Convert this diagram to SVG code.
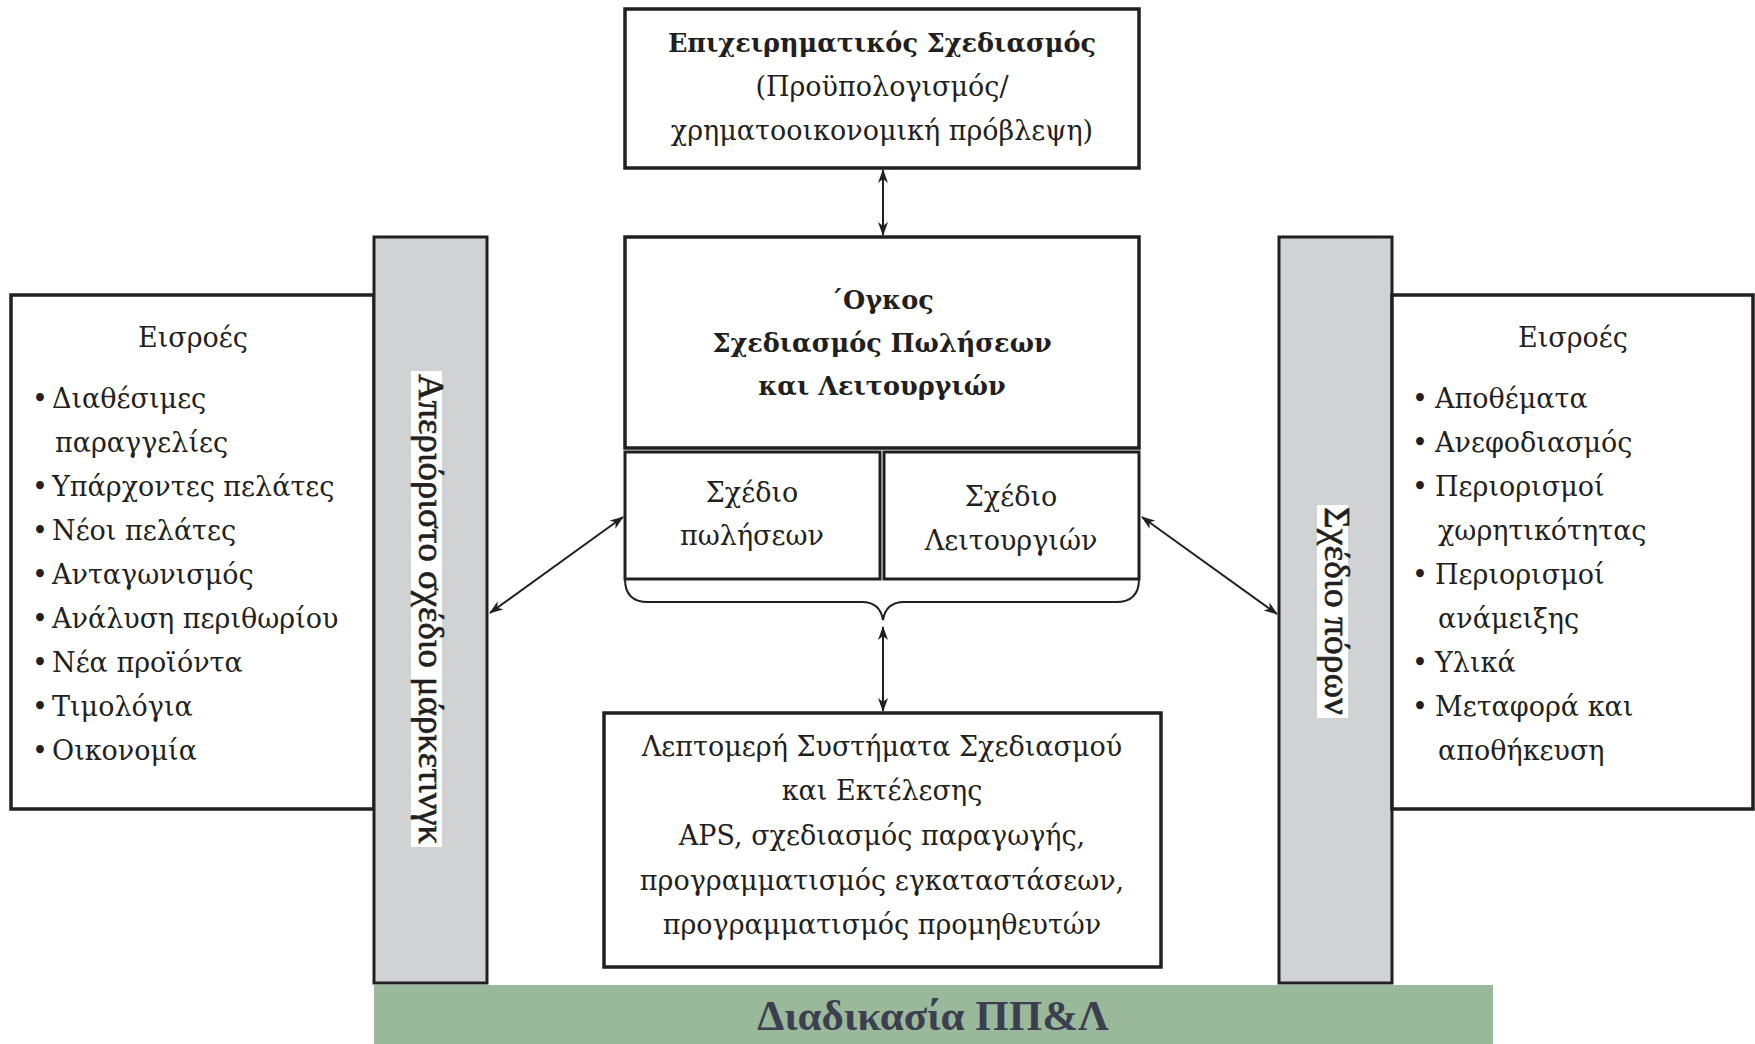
<svg xmlns="http://www.w3.org/2000/svg" width="1755" height="1044" viewBox="0 0 1755 1044">
<style>
.box{fill:#fff;stroke:#231f20;stroke-width:3.5}
.sub{fill:#fff;stroke:#231f20;stroke-width:3}
.bar{fill:#d1d2d4;stroke:#231f20;stroke-width:3}
.t{font-family:"DejaVu Serif","Liberation Serif",serif;font-size:27px;fill:#231f20}
.c{text-anchor:middle}
.b{font-weight:bold;font-size:25.5px}
.v{font-family:"Liberation Serif","DejaVu Serif",serif;font-size:35px;fill:#231f20;stroke:#231f20;stroke-width:0.6;text-anchor:middle}
.con{fill:none;stroke:#231f20;stroke-width:2}
</style>
<defs>
<marker id="ah" viewBox="0 0 14 10" refX="13" refY="5" markerWidth="14" markerHeight="10" markerUnits="userSpaceOnUse" orient="auto-start-reverse">
<path d="M0,0 L14,5 L0,10 L4,5 z" fill="#231f20"/>
</marker>
</defs>
<rect width="1755" height="1044" fill="#fff"/>

<g id="left-inputs">
<rect class="box" x="11" y="295" width="363" height="514"/>
<text class="t c" x="193" y="347">Εισροές</text>
<text class="t" x="32" y="408">•</text><text class="t" x="52" y="408">Διαθέσιμες</text>
<text class="t" x="55" y="452">παραγγελίες</text>
<text class="t" x="32" y="496">•</text><text class="t" x="52" y="496">Υπάρχοντες πελάτες</text>
<text class="t" x="32" y="540">•</text><text class="t" x="52" y="540">Νέοι πελάτες</text>
<text class="t" x="32" y="584">•</text><text class="t" x="52" y="584">Ανταγωνισμός</text>
<text class="t" x="32" y="628">•</text><text class="t" x="52" y="628">Ανάλυση περιθωρίου</text>
<text class="t" x="32" y="672">•</text><text class="t" x="52" y="672">Νέα προϊόντα</text>
<text class="t" x="32" y="716">•</text><text class="t" x="52" y="716">Τιμολόγια</text>
<text class="t" x="32" y="760">•</text><text class="t" x="52" y="760">Οικονομία</text>
</g>

<g id="marketing-bar">
<rect class="bar" x="374" y="237" width="113" height="746"/>
<rect x="411" y="371" width="31" height="476" fill="#fff"/>
<text class="v" transform="translate(419,609) rotate(90)" textLength="470" lengthAdjust="spacingAndGlyphs">Απεριόριστο σχέδιο μάρκετινγκ</text>
</g>

<g id="resources-bar">
<rect class="bar" x="1279" y="237" width="113" height="746"/>
<rect x="1317" y="505" width="31" height="213" fill="#fff"/>
<text class="v" transform="translate(1325,611) rotate(90)" textLength="208" lengthAdjust="spacingAndGlyphs">Σχέδιο πόρων</text>
</g>

<g id="right-inputs">
<rect class="box" x="1392" y="295" width="361" height="514"/>
<text class="t c" x="1573" y="347">Εισροές</text>
<text class="t" x="1412" y="408">•</text><text class="t" x="1435" y="408">Αποθέματα</text>
<text class="t" x="1412" y="452">•</text><text class="t" x="1435" y="452">Ανεφοδιασμός</text>
<text class="t" x="1412" y="496">•</text><text class="t" x="1435" y="496">Περιορισμοί</text>
<text class="t" x="1438" y="540">χωρητικότητας</text>
<text class="t" x="1412" y="584">•</text><text class="t" x="1435" y="584">Περιορισμοί</text>
<text class="t" x="1438" y="628">ανάμειξης</text>
<text class="t" x="1412" y="672">•</text><text class="t" x="1435" y="672">Υλικά</text>
<text class="t" x="1412" y="716">•</text><text class="t" x="1435" y="716">Μεταφορά και</text>
<text class="t" x="1438" y="760">αποθήκευση</text>
</g>

<g id="business-planning">
<rect class="box" x="625" y="9" width="514" height="159"/>
<text class="t c b" x="882" y="52">Επιχειρηματικός Σχεδιασμός</text>
<text class="t c" x="882" y="96">(Προϋπολογισμός/</text>
<text class="t c" x="882" y="140">χρηματοοικονομική πρόβλεψη)</text>
</g>

<g id="volume-planning">
<rect class="box" x="625" y="237" width="514" height="211"/>
<text class="t c b" x="882" y="309">΄Ογκος</text>
<text class="t c b" x="882" y="352">Σχεδιασμός Πωλήσεων</text>
<text class="t c b" x="882" y="395">και Λειτουργιών</text>
</g>

<g id="sales-plan">
<rect class="sub" x="625" y="452" width="255" height="127"/>
<text class="t c" x="752" y="502">Σχέδιο</text>
<text class="t c" x="752" y="545">πωλήσεων</text>
</g>

<g id="operations-plan">
<rect class="sub" x="884" y="452" width="255" height="127"/>
<text class="t c" x="1011" y="506">Σχέδιο</text>
<text class="t c" x="1011" y="550">Λειτουργιών</text>
</g>

<g id="detailed-systems">
<rect class="box" x="604" y="713" width="557" height="254"/>
<text class="t c" x="882" y="756">Λεπτομερή Συστήματα Σχεδιασμού</text>
<text class="t c" x="882" y="800">και Εκτέλεσης</text>
<text class="t c" x="882" y="845">APS, σχεδιασμός παραγωγής,</text>
<text class="t c" x="882" y="890">προγραμματισμός εγκαταστάσεων,</text>
<text class="t c" x="882" y="934">προγραμματισμός προμηθευτών</text>
</g>

<g id="sop-process">
<rect x="374" y="985" width="1119" height="59" fill="#9ab89a"/>
<text x="933" y="1030" font-family="'Liberation Serif',serif" font-size="43" font-weight="bold" fill="#3b3f50" text-anchor="middle">Διαδικασία ΠΠ&amp;Λ</text>
</g>

<g id="connectors">
<line class="con" x1="883" y1="170" x2="883" y2="235" marker-start="url(#ah)" marker-end="url(#ah)"/>
<line class="con" x1="623" y1="517" x2="490" y2="613" marker-start="url(#ah)" marker-end="url(#ah)"/>
<line class="con" x1="1142" y1="517" x2="1277" y2="614" marker-start="url(#ah)" marker-end="url(#ah)"/>
<path class="con" d="M625,579 Q625,602 648,602 L862,602 Q880,602 883,620 Q886,602 904,602 L1116,602 Q1139,602 1139,579"/>
<line class="con" x1="883" y1="627" x2="883" y2="711" marker-start="url(#ah)" marker-end="url(#ah)"/>
</g>
</svg>
